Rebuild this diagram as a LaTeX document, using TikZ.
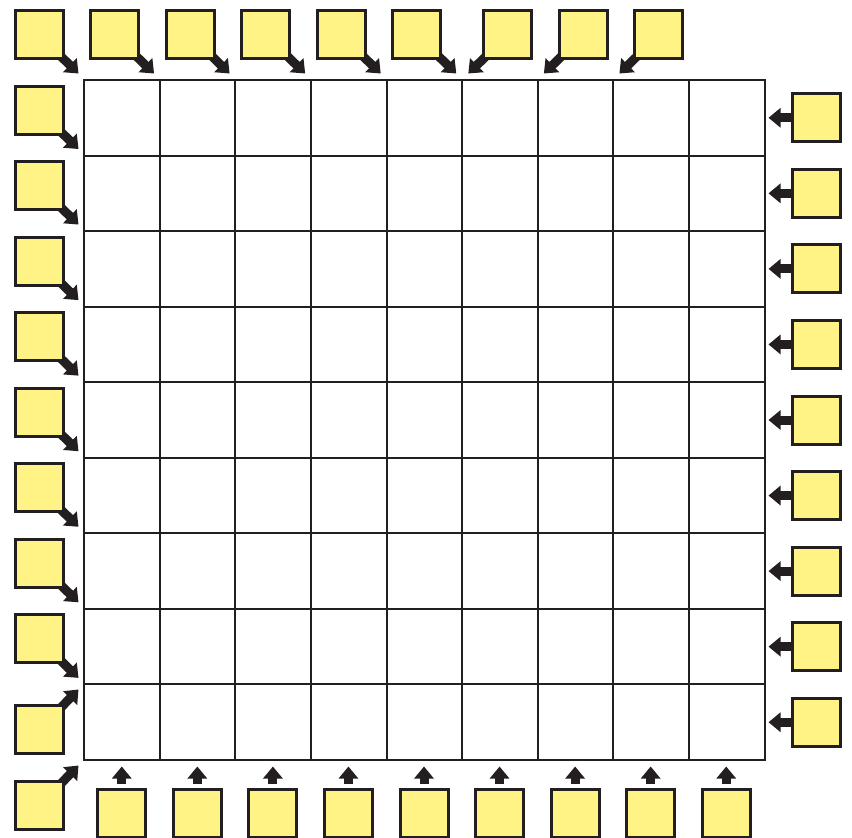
\documentclass[tikz,border=0pt]{standalone}
\usetikzlibrary{arrows.meta}
\definecolor{boxyellow}{HTML}{FFF385}
\definecolor{ink}{HTML}{231F20}
\begin{document}
\begin{tikzpicture}[x=1pt,y=-1pt,
  box/.style={draw=ink,fill=boxyellow,line width=3pt,minimum size=48pt,inner sep=0pt},
  arr/.style={draw=ink,line width=9pt,-{Triangle[length=12pt,width=19pt]}},
  gridline/.style={draw=ink,line width=1.6pt,line cap=rect}]
\useasboundingbox (0,0) rectangle (852,838);
\clip (0,0) rectangle (852,838);
% grid
\foreach \p in {84,160,235,311,387,462,538,613,689,765} {
  \draw[gridline] (\p,80) -- (\p,760);
}
\foreach \p in {80,156,231,307,382,458,533,609,684,760} {
  \draw[gridline] (84,\p) -- (765,\p);
}
% top row, arrows down-right
\foreach \j in {0,...,5} {
  \node[box] (t\j) at ({39+75.5556*\j},34.5) {};
  \coordinate (tt\j) at ({78.5+75.5556*\j},73.5);
  \draw[arr] ([shift={(-4,-4)}]t\j.south east) -- (tt\j);
  \node[box] at (t\j) {};
}
% top row, arrows down-left
\foreach \j in {6,7,8} {
  \node[box] (t\j) at ({507.8+75.5556*(\j-6)},34.5) {};
  \coordinate (tt\j) at ({468.3+75.5556*(\j-6)},73.5);
  \draw[arr] ([shift={(4,-4)}]t\j.south west) -- (tt\j);
  \node[box] at (t\j) {};
}
% left column, arrows down-right
\foreach \i in {0,...,7} {
  \node[box] (l\i) at (39,{110+75.5556*\i}) {};
  \coordinate (lt\i) at (78.5,{149+75.5556*\i});
  \draw[arr] ([shift={(-4,-4)}]l\i.south east) -- (lt\i);
  \node[box] at (l\i) {};
}
% left column, arrows up-right
\node[box] (l8) at (39,729.5) {};
\coordinate (lt8) at (78.5,689.5);
\draw[arr] ([shift={(-4,4)}]l8.north east) -- (lt8);
\node[box] at (l8) {};
\node[box] (l9) at (39,805.5) {};
\coordinate (lt9) at (78.5,765.5);
\draw[arr] ([shift={(-4,4)}]l9.north east) -- (lt9);
\node[box] at (l9) {};
% bottom row, arrows up
\foreach \j in {0,...,8} {
  \node[box] (b\j) at ({84+75.5556*(\j+0.5)},813.5) {};
  \coordinate (bt\j) at ({84+75.5556*(\j+0.5)},766.5);
  \draw[arr] ([yshift=4]b\j.north) -- (bt\j);
  \node[box] at (b\j) {};
}
% right column, arrows left
\foreach \i in {0,...,8} {
  \node[box] (r\i) at (816,{80+75.5556*(\i+0.5)}) {};
  \coordinate (rt\i) at (768.5,{80+75.5556*(\i+0.5)});
  \draw[arr] ([xshift=4]r\i.west) -- (rt\i);
  \node[box] at (r\i) {};
}
\end{tikzpicture}
\end{document}
